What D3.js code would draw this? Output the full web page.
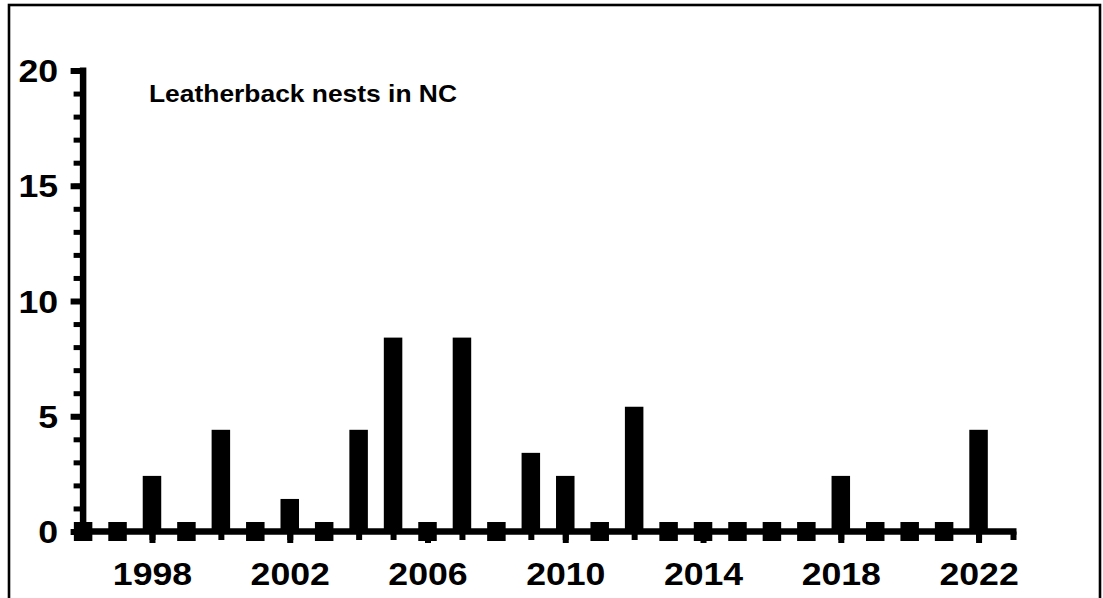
<!DOCTYPE html>
<html>
<head>
<meta charset="utf-8">
<script src="https://cdn.jsdelivr.net/npm/d3@7/dist/d3.min.js"></script>
<style>
  html, body { margin: 0; padding: 0; background: #fff; }
  svg { display: block; }
  text { font-family: "Liberation Sans", Arial, Helvetica, sans-serif; font-weight: bold; fill: #000; }
</style>
</head>
<body>
<svg id="chart" width="1103" height="598"></svg>
<script>
// ---- data ----
const years = [1996, 1997, 1998, 1999, 2000, 2001, 2002, 2003, 2004, 2005, 2006, 2007, 2008, 2009,
               2010, 2011, 2012, 2013, 2014, 2015, 2016, 2017, 2018, 2019, 2020, 2021, 2022];
const nests = [0, 0, 2, 0, 4, 0, 1, 0, 4, 8, 0, 8, 0, 3,
               2, 0, 5, 0, 0, 0, 0, 0, 2, 0, 0, 0, 4];
const xTickLabels = [1998, 2002, 2006, 2010, 2014, 2018, 2022];
const yTickLabels = [0, 5, 10, 15, 20];
const yMinorTicks = [0, 1, 2, 3, 4, 5, 6, 7, 8, 9, 10, 11, 12, 13, 14, 15, 16, 17, 18, 19, 20];
const xMinorTicks = [1996, 1997, 1998, 1999, 2000, 2001, 2002, 2003, 2004, 2005, 2006, 2007, 2008, 2009,
                     2010, 2011, 2012, 2013, 2014, 2015, 2016, 2017, 2018, 2019, 2020, 2021, 2022, 2023];
const title = "Leatherback nests in NC";

// ---- layout ----
const svg = d3.select("#chart");
const x = d3.scaleLinear().domain([1996, 2023]).range([83.1, 1013]);
const y = d3.scaleLinear().domain([0, 20]).range([531.5, 70.5]);
const barW = 18.5, pad = 9.5, axisW = 6.5, sx = 1.15;

// frame
svg.append("rect").attr("x", 9).attr("y", 5).attr("width", 1091).attr("height", 640)
  .attr("fill", "none").attr("stroke", "#000").attr("stroke-width", 2.6);

// bars
const data = years.map((yr, i) => ({ yr, v: nests[i] }));
svg.append("g").selectAll("rect").data(data).join("rect")
  .attr("x", d => x(d.yr) - barW / 2)
  .attr("width", barW)
  .attr("y", d => y(d.v) - pad)
  .attr("height", d => y(0) - y(d.v) + pad + (d.v === 0 ? pad : 0))
  .attr("fill", "#000");

// y axis: minor ticks
svg.append("g").attr("transform", `translate(${x(1996)},0)`)
  .call(d3.axisLeft(y).tickValues(yMinorTicks).tickSize(9.5).tickFormat(""))
  .call(g => g.select(".domain").remove())
  .call(g => g.selectAll(".tick line").attr("stroke", "#000").attr("stroke-width", 5));

// y axis: major ticks + labels
const yMaj = svg.append("g").attr("transform", `translate(${x(1996)},0)`)
  .call(d3.axisLeft(y).tickValues(yTickLabels).tickSize(12.5).tickPadding(12.5).tickFormat(d3.format("d")))
  .call(g => g.select(".domain").remove())
  .call(g => g.selectAll(".tick line").attr("stroke", "#000").attr("stroke-width", 6));
yMaj.selectAll(".tick text")
  .attr("font-size", 31).attr("fill", "#000")
  .attr("x", -25 / sx).attr("dy", "0.36em")
  .attr("transform", `scale(${sx},1)`);

// x axis: minor ticks
svg.append("g").attr("transform", `translate(0,${y(0)})`)
  .call(d3.axisBottom(x).tickValues(xMinorTicks).tickSize(8.5).tickFormat(""))
  .call(g => g.select(".domain").remove())
  .call(g => g.selectAll(".tick line").attr("stroke", "#000").attr("stroke-width", 6));

// x axis: major ticks + labels
const xMaj = svg.append("g").attr("transform", `translate(0,${y(0)})`)
  .call(d3.axisBottom(x).tickValues(xTickLabels).tickSize(11.5).tickPadding(20).tickFormat(d3.format("d")))
  .call(g => g.select(".domain").remove())
  .call(g => g.selectAll(".tick line").attr("stroke", "#000").attr("stroke-width", 6));
xMaj.selectAll(".tick text")
  .attr("font-size", 31).attr("fill", "#000")
  .attr("transform", `scale(${sx},1)`);

// axis lines
svg.append("line")
  .attr("x1", x(1996)).attr("x2", x(1996))
  .attr("y1", y(20) - 3).attr("y2", y(0) + axisW / 2)
  .attr("stroke", "#000").attr("stroke-width", axisW);
svg.append("line")
  .attr("x1", x(1996) - axisW / 2).attr("x2", x(2023) + 3.5)
  .attr("y1", y(0)).attr("y2", y(0))
  .attr("stroke", "#000").attr("stroke-width", axisW);

// title
svg.append("text")
  .attr("x", 149).attr("y", 101.5)
  .attr("font-size", 24.5)
  .attr("textLength", 308).attr("lengthAdjust", "spacingAndGlyphs")
  .text(title);
</script>
</body>
</html>
